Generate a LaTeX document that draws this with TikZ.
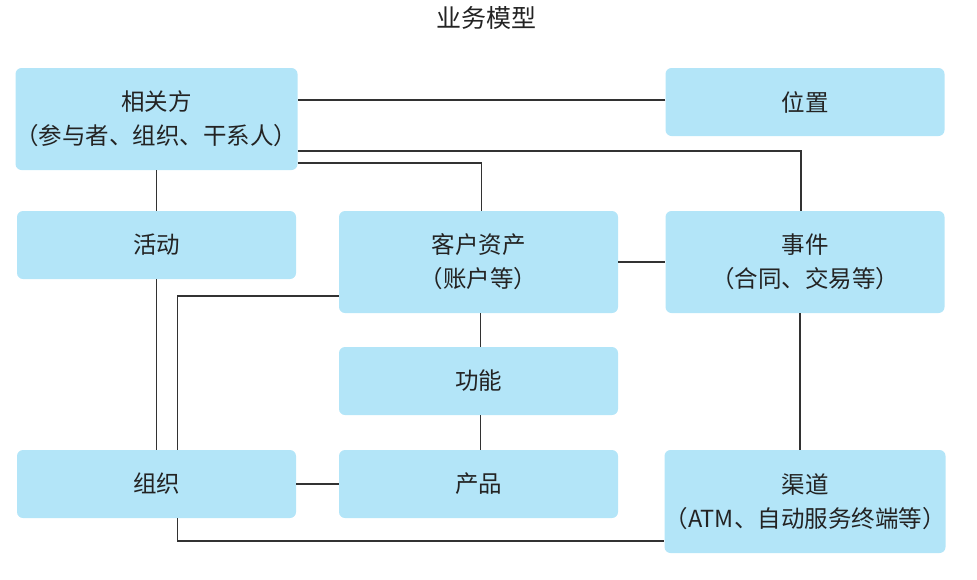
\documentclass[tikz,border=0pt]{standalone}
\usepackage{fontspec}
\setmainfont{Noto Sans CJK SC}
\begin{document}
\begin{tikzpicture}[x=1pt,y=-1pt,
  entity/.style={fill=boxblue,draw=none,rounded corners=6pt,
    minimum width=279pt,align=center,inner sep=0pt,
    font=\fontsize{23.5}{34}\selectfont,text=textgray},
  short/.style={entity,minimum height=68pt},
  tall/.style={entity,minimum height=102pt},
  link/.style={draw=linegray,line width=1.5pt}]
\definecolor{boxblue}{RGB}{179,229,248}
\definecolor{linegray}{RGB}{50,50,50}
\definecolor{textgray}{RGB}{35,35,35}
\useasboundingbox (0,0) rectangle (977,579);

\node[font=\fontsize{25}{30}\selectfont,text=textgray] (title) at (486,18) {业务模型};

% entity boxes
\node[tall]  (rel)   at (156.5,119)   {相关方\\（参与者、组织、干系人）};
\node[short] (loc)   at (805,102)     {位置};
\node[short] (act)   at (156.5,245)   {活动};
\node[tall]  (asset) at (478.5,262)   {客户资产\\（账户等）};
\node[tall]  (event) at (805,262)     {事件\\（合同、交易等）};
\node[short] (func)  at (478.5,381)   {功能};
\node[short] (org)   at (156.5,484)   {组织};
\node[short] (prod)  at (478.5,484)   {产品};
\node[entity,minimum height=103pt] (chan) at (805,501.5)
  {渠道\\（ATM、自动服务终端等）};

% connectors
\draw[link] ([yshift=2pt]loc.west) -- ([yshift=2pt]loc.west -| rel.east);
\draw[link] ([yshift=-32pt]rel.east) -| ([xshift=-4pt]event.north);
\draw[link] ([yshift=-44pt]rel.east) -| ([xshift=3pt]asset.north);
\draw[link] (rel.south) -- (act.north);
\draw[link] (act.south) -- (org.north);
\draw[link] ([yshift=-34pt]asset.west) -| ([xshift=21pt]org.north);
\draw[link] (asset.east) -- (event.west);
\draw[link] ([xshift=2pt]asset.south) -- ([xshift=2pt]func.north);
\draw[link] ([xshift=2pt]func.south) -- ([xshift=2pt]prod.north);
\draw[link] (prod.west) -- (org.east);
\draw[link] ([xshift=-5pt]event.south) -- ([xshift=-5pt]chan.north);
\draw[link] ([xshift=21pt]org.south) |- ([yshift=-39.5pt]chan.west);
\end{tikzpicture}
\end{document}
